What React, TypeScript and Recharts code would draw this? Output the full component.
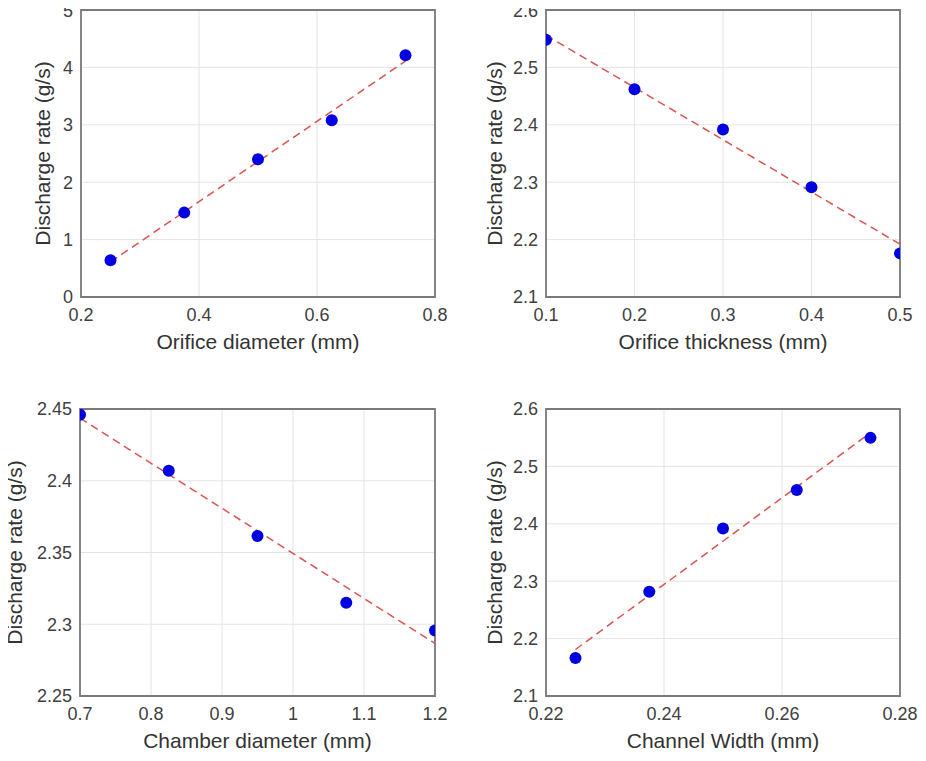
import { ScatterChart, Scatter, XAxis, YAxis, CartesianGrid, ReferenceArea } from "recharts";

// Orifice diameter
const diamX = [0.25, 0.375, 0.5, 0.625, 0.75];
const diamY = [0.64, 1.47, 2.4, 3.08, 4.21];
const diamFitX = [0.25, 0.75];
const diamFitY = [0.61, 4.11];
const diamXTicks = [0.2, 0.4, 0.6, 0.8];
const diamYTicks = [0, 1, 2, 3, 4, 5];

// Orifice thickness
const thickX = [0.1, 0.2, 0.3, 0.4, 0.5];
const thickY = [2.548, 2.462, 2.392, 2.291, 2.176];
const thickFitX = [0.1, 0.5];
const thickFitY = [2.556, 2.192];
const thickXTicks = [0.1, 0.2, 0.3, 0.4, 0.5];
const thickYTicks = [2.1, 2.2, 2.3, 2.4, 2.5, 2.6];

// Chamber diameter
const chamberX = [0.7, 0.825, 0.95, 1.075, 1.2];
const chamberY = [2.446, 2.407, 2.3615, 2.315, 2.2956];
const chamberFitX = [0.7, 1.2];
const chamberFitY = [2.4436, 2.2866];
const chamberXTicks = [0.7, 0.8, 0.9, 1, 1.1, 1.2];
const chamberYTicks = [2.25, 2.3, 2.35, 2.4, 2.45];

// Channel width
const channelX = [0.225, 0.2375, 0.25, 0.2625, 0.275];
const channelY = [2.166, 2.2816, 2.392, 2.459, 2.5497];
const channelFitX = [0.225, 0.275];
const channelFitY = [2.181, 2.5586];
const channelXTicks = [0.22, 0.24, 0.26, 0.28];
const channelYTicks = [2.1, 2.2, 2.3, 2.4, 2.5, 2.6];

const yLabel = "Discharge rate (g/s)";
const FONT = "'Liberation Sans', Arial, sans-serif";

const zip = (xs: number[], ys: number[]) => xs.map((x, i) => ({ x, y: ys[i] }));

type PanelProps = {
  left: number;
  top: number;
  xs: number[];
  ys: number[];
  fitX: number[];
  fitY: number[];
  xTicks: number[];
  yTicks: number[];
  xLabel: string;
  margin: { top: number; right: number; bottom: number; left: number };
  yLabelOffset: number;
};

function Panel(p: PanelProps) {
  const xDomain: [number, number] = [p.xTicks[0], p.xTicks[p.xTicks.length - 1]];
  const yDomain: [number, number] = [p.yTicks[0], p.yTicks[p.yTicks.length - 1]];
  const tickStyle = { fontSize: 18, fill: "#404040", fontFamily: FONT };
  return (
    <div style={{ position: "absolute", left: p.left, top: p.top }}>
      <ScatterChart width={463} height={380} margin={p.margin}>
        <CartesianGrid stroke="#e4e4e4" strokeWidth={1} />
        <XAxis
          type="number"
          dataKey="x"
          domain={xDomain}
          ticks={p.xTicks}
          allowDataOverflow
          tickLine={false}
          axisLine={false}
          tickMargin={5}
          height={30}
          tick={tickStyle}
          label={{ value: p.xLabel, position: "bottom", offset: 7, fontSize: 21, fill: "#333", fontFamily: FONT }}
        />
        <YAxis
          type="number"
          dataKey="y"
          domain={yDomain}
          ticks={p.yTicks}
          allowDataOverflow
          tickLine={false}
          axisLine={false}
          width={60}
          tick={tickStyle}
          label={{
            value: yLabel,
            angle: -90,
            position: "insideLeft",
            offset: p.yLabelOffset,
            textAnchor: "middle",
            fontSize: 21,
            fill: "#333",
            fontFamily: FONT,
          }}
        />
        <ReferenceArea
          x1={xDomain[0]}
          x2={xDomain[1]}
          y1={yDomain[0]}
          y2={yDomain[1]}
          fill="none"
          stroke="#7a7a7a"
          strokeWidth={1.8}
        />
        <Scatter
          data={zip(p.fitX, p.fitY)}
          line={{ stroke: "#d9534f", strokeWidth: 1.5, strokeDasharray: "8 5" }}
          shape={() => <g />}
          isAnimationActive={false}
        />
        <Scatter data={zip(p.xs, p.ys)} fill="#0000e0" shape={(props: any) => (
          <circle cx={props.cx} cy={props.cy} r={6} fill="#0000e0" />
        )} isAnimationActive={false} />
      </ScatterChart>
    </div>
  );
}

export default function App() {
  return (
    <div style={{ position: "relative", width: 926, height: 761, background: "#fff", margin: -8 }}>
      <Panel
        left={0}
        top={0}
        xs={diamX}
        ys={diamY}
        fitX={diamFitX}
        fitY={diamFitY}
        xTicks={diamXTicks}
        yTicks={diamYTicks}
        xLabel="Orifice diameter (mm)"
        margin={{ top: 10, right: 28, bottom: 53, left: 21 }}
        yLabelOffset={22}
      />
      <Panel
        left={463}
        top={0}
        xs={thickX}
        ys={thickY}
        fitX={thickFitX}
        fitY={thickFitY}
        xTicks={thickXTicks}
        yTicks={thickYTicks}
        xLabel="Orifice thickness (mm)"
        margin={{ top: 10, right: 26, bottom: 53, left: 23 }}
        yLabelOffset={9}
      />
      <Panel
        left={0}
        top={380}
        xs={chamberX}
        ys={chamberY}
        fitX={chamberFitX}
        fitY={chamberFitY}
        xTicks={chamberXTicks}
        yTicks={chamberYTicks}
        xLabel="Chamber diameter (mm)"
        margin={{ top: 29, right: 28, bottom: 34, left: 20 }}
        yLabelOffset={-5}
      />
      <Panel
        left={463}
        top={380}
        xs={channelX}
        ys={channelY}
        fitX={channelFitX}
        fitY={channelFitY}
        xTicks={channelXTicks}
        yTicks={channelYTicks}
        xLabel="Channel Width (mm)"
        margin={{ top: 29, right: 26, bottom: 34, left: 23 }}
        yLabelOffset={9}
      />
    </div>
  );
}
